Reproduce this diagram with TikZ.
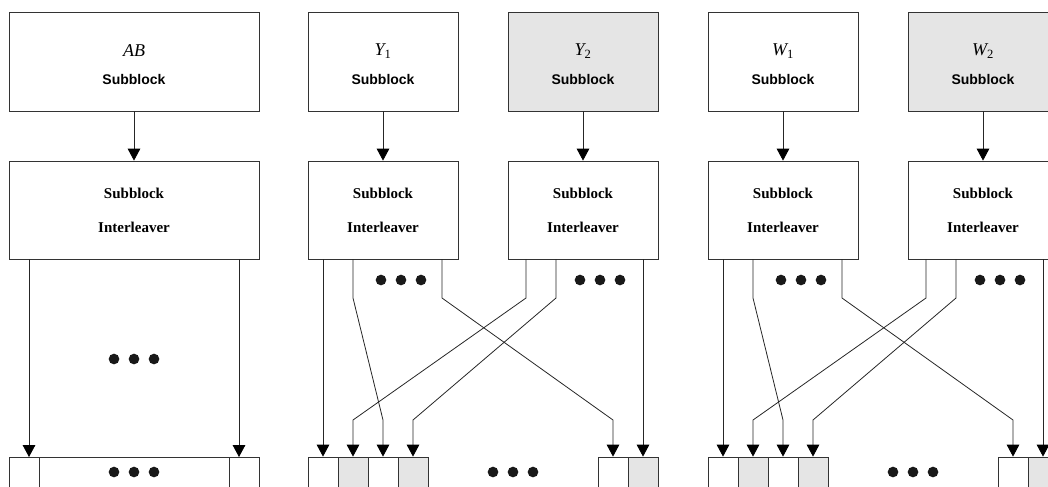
\documentclass[tikz,border=0pt]{standalone}
\usepackage{fontspec}
\setmainfont{Liberation Serif}
\newfontfamily\arialf{Liberation Sans}
\usetikzlibrary{arrows.meta}
\begin{document}
\begin{tikzpicture}[x=0.75pt,y=-0.75pt,
  boxline/.style={draw=black!80, line width=0.6pt},
  topbox/.style={boxline, inner sep=0pt, minimum width=112.5pt, minimum height=74.25pt},
  intbox/.style={boxline, inner sep=0pt, minimum width=112.5pt, minimum height=73.5pt,
     align=center, font=\fontsize{11.25}{25.5}\selectfont\bfseries},
  widebox/.style={minimum width=187.5pt},
  shaded/.style={fill=black!10},
  cell/.style={boxline, inner sep=0pt, minimum width=22.5pt, minimum height=30pt},
  mlbl/.style={inner sep=0pt, font=\fontsize{13.5}{15}\selectfont\itshape},
  slbl/.style={inner sep=0pt, font=\fontsize{10.5}{12}\selectfont\arialf\bfseries},
  arr/.style={-{Triangle[length=9pt,width=9.5pt,color=black]}, line width=0.6pt, draw=black!85},
  dotf/.style={fill=black!90}
]
\useasboundingbox (0,0) rectangle (1048,486);
\clip (0,0) rectangle (1048,486);

% ---------- AB group ----------
\node[topbox,widebox] (ABt) at (134,61.5) {};
\node[mlbl] (ABm) at (134,51) {AB};
\node[slbl] (ABs) at (134,79) {Subblock};
\node[intbox,widebox] (ABi) at (134,210) {Subblock\\Interleaver};
\draw[arr] (ABt) -- (ABi);
\coordinate (ABo1) at (29,259);
\coordinate (ABo2) at (239,259);
\node[cell] (ABc1) at (24,477) {};
\node[cell,minimum width=142.5pt] (ABc2) at (134,477) {};
\node[cell] (ABc3) at (244,477) {};
\coordinate (ABe1) at (29,457);
\coordinate (ABe2) at (239,457);
\draw[arr] (ABo1) -- (ABe1);
\draw[arr] (ABo2) -- (ABe2);
\foreach \x in {114,134,154}{
  \fill[dotf] (\x,359) circle (4pt);
  \fill[dotf] (\x,472) circle (4pt);
}

% ---------- Y and W groups ----------
\foreach \o/\grp in {0/Y,400/W}{
  \node[topbox] (\grp1t) at (383+\o,61.5) {};
  \node[topbox,shaded] (\grp2t) at (583+\o,61.5) {};
  \node[mlbl] (\grp1m) at (383+\o,51) {\grp\textsubscript{\upshape 1}};
  \node[mlbl] (\grp2m) at (583+\o,51) {\grp\textsubscript{\upshape 2}};
  \node[slbl] (\grp1s) at (383+\o,79) {Subblock};
  \node[slbl] (\grp2s) at (583+\o,79) {Subblock};
  \node[intbox] (\grp1i) at (383+\o,210) {Subblock\\Interleaver};
  \node[intbox] (\grp2i) at (583+\o,210) {Subblock\\Interleaver};
  \draw[arr] (\grp1t) -- (\grp1i);
  \draw[arr] (\grp2t) -- (\grp2i);
  % outputs of interleavers
  \coordinate (\grp o1) at (323+\o,259);
  \coordinate (\grp o2) at (353+\o,259);
  \coordinate (\grp o3) at (442+\o,259);
  \coordinate (\grp o4) at (526+\o,259);
  \coordinate (\grp o5) at (556+\o,259);
  \coordinate (\grp o6) at (643+\o,259);
  % bottom cells
  \node[cell] (\grp c1) at (323+\o,477) {};
  \node[cell,shaded] (\grp c2) at (353+\o,477) {};
  \node[cell] (\grp c3) at (383+\o,477) {};
  \node[cell,shaded] (\grp c4) at (413+\o,477) {};
  \node[cell] (\grp c5) at (613+\o,477) {};
  \node[cell,shaded] (\grp c6) at (643+\o,477) {};
  % connectors
  \draw[arr] (\grp o1) -- (\grp c1);
  \draw[arr] (\grp o2) -- (353+\o,298) -- (383+\o,420) -- (\grp c3);
  \draw[arr] (\grp o3) -- (442+\o,298) -- (613+\o,420) -- (\grp c5);
  \draw[arr] (\grp o4) -- (526+\o,298) -- (353+\o,420) -- (\grp c2);
  \draw[arr] (\grp o5) -- (556+\o,298) -- (413+\o,420) -- (\grp c4);
  \draw[arr] (\grp o6) -- (\grp c6);
  % dots
  \foreach \x in {381,401,421}{\fill[dotf] (\x+\o,280) circle (4pt);}
  \foreach \x in {580,600,620}{\fill[dotf] (\x+\o,280) circle (4pt);}
  \foreach \x in {493,513,533}{\fill[dotf] (\x+\o,472) circle (4pt);}
}
\end{tikzpicture}
\end{document}
